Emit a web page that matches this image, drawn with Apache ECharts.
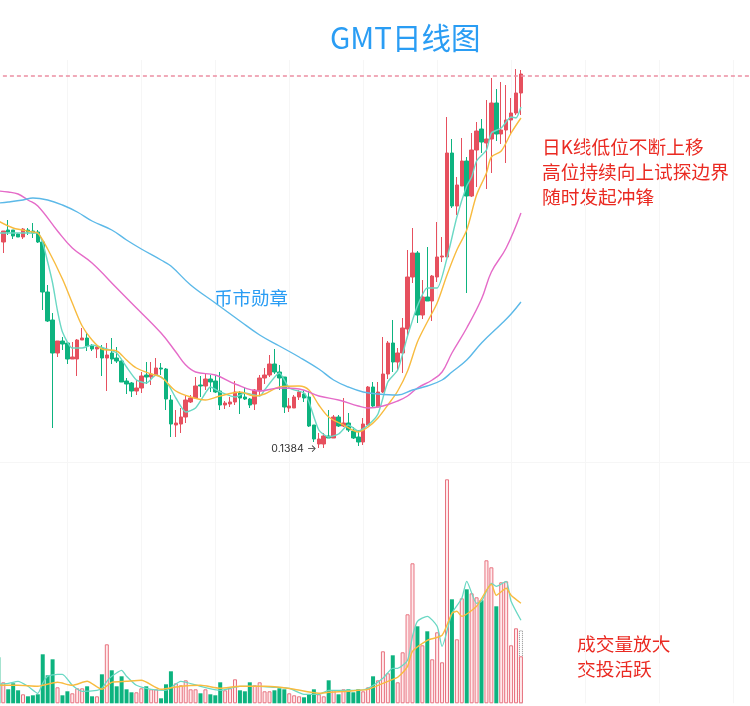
<!DOCTYPE html>
<html>
<head>
<meta charset="utf-8">
<style>
html, body { margin: 0; padding: 0; background: #fff; }
#main { width: 750px; height: 706px; }
</style>
<script src="https://cdn.jsdelivr.net/npm/echarts@6/dist/echarts.min.js"></script>
</head>
<body>
<div id="main"></div>
<script>
// 日K数据 [开盘, 收盘, 最低, 最高]
var candles = [
  [.344,.355,.333,.355],[.356,.354,.351,.366],[.356,.350,.347,.356],[.352,.349,.349,.353],[.349,.357,.347,.358],
  [.356,.354,.351,.358],[.355,.353,.348,.363],[.354,.344,.343,.356],[.344,.294,.276,.344],[.294,.265,.264,.301],
  [.266,.233,.158,.273],[.233,.245,.229,.245],[.245,.242,.236,.249],[.243,.227,.222,.243],[.227,.229,.227,.244],
  [.227,.246,.210,.247],[.246,.248,.246,.258],[.248,.240,.235,.253],[.240,.237,.235,.242],[.237,.239,.228,.240],
  [.238,.228,.210,.241],[.228,.231,.195,.243],[.233,.227,.222,.248],[.228,.225,.223,.239],[.225,.204,.204,.226],
  [.205,.202,.192,.208],[.203,.195,.189,.204],[.195,.198,.191,.206],[.198,.210,.193,.214],[.211,.209,.202,.224],
  [.209,.212,.201,.224],[.211,.218,.211,.228],[.218,.217,.211,.223],[.217,.187,.176,.218],[.186,.162,.149,.191],
  [.161,.163,.149,.176],[.162,.169,.153,.178],[.169,.186,.163,.191],[.184,.188,.183,.191],[.188,.200,.187,.209],
  [.201,.200,.189,.210],[.200,.207,.196,.213],[.207,.204,.194,.211],[.205,.194,.193,.211],[.195,.181,.176,.214],
  [.181,.183,.177,.185],[.182,.184,.179,.189],[.184,.194,.181,.205],[.193,.188,.172,.195],[.189,.187,.186,.199],
  [.187,.181,.178,.188],[.182,.196,.176,.197],[.195,.208,.191,.211],[.208,.211,.202,.218],[.211,.222,.209,.231],
  [.222,.214,.212,.237],[.214,.208,.196,.221],[.209,.179,.173,.209],[.178,.180,.174,.188],[.178,.189,.178,.191],
  [.189,.194,.186,.196],[.192,.188,.184,.196],[.189,.160,.159,.195],[.161,.147,.144,.161],[.142,.147,.138,.153],
  [.142,.150,.138,.153],[.150,.148,.148,.176],[.148,.169,.148,.171],[.169,.160,.159,.171],[.160,.163,.159,.188],
  [.163,.156,.154,.173],[.155,.148,.147,.159],[.149,.144,.140,.156],[.144,.162,.141,.168],[.161,.199,.160,.200],
  [.199,.180,.179,.204],[.179,.194,.179,.204],[.194,.212,.193,.249],[.212,.243,.207,.245],[.243,.224,.214,.266],
  [.224,.233,.216,.238],[.233,.258,.213,.268],[.257,.309,.249,.336],[.309,.333,.303,.358],[.333,.271,.263,.335],
  [.271,.289,.267,.306],[.289,.285,.285,.339],[.285,.310,.265,.311],[.309,.329,.304,.364],[.329,.330,.324,.349],
  [.329,.433,.329,.469],[.433,.380,.378,.447],[.380,.401,.371,.409],[.400,.425,.400,.448],[.425,.390,.293,.429],
  [.390,.436,.389,.453],[.436,.455,.399,.464],[.457,.444,.433,.467],[.443,.447,.397,.486],[.447,.483,.413,.508],
  [.483,.452,.445,.497],[.452,.456,.442,.504],[.456,.466,.423,.501],[.466,.473,.452,.488],[.473,.493,.471,.517],
  [.493,.512,.471,.516]
];
// 成交量，第一根只露出一点
var volumes = [
  46,21,14,20,13,9,7,8,9,49,28,44,16,8,12,10,15,15,17,7,7,29,59,33,17,27,14,11,11,15,17,14,14,5,19,32,
  20,18,23,14,14,10,14,9,8,21,13,15,24,13,12,21,18,21,12,12,13,15,14,10,8,7,6,9,14,9,7,23,13,9,14,14,11,14,12,
  16,27,23,52,30,48,21,51,89,140,77,58,72,44,71,41,224,104,64,105,114,110,106,103,143,136,97,121,122,58,75,47
];
var volumeEstimate = 73; // 最后一根的预估量，虚线框

// 均线读数 [类目序号, 价格]
var ma5 = [[0,.353],[5,.353],[8,.353],[9,.343],[10,.324],[11,.303],[12,.275],[13,.254],[15,.238],[17,.238],[19,.241],[22,.237],[24,.233],[26,.219],[28,.206],[30,.203],[32,.211],[34,.205],[36,.188],[38,.174],[40,.178],[42,.193],[43,.199],[45,.194],[48,.189],[50,.193],[53,.190],[54,.196],[57,.213],[59,.198],[62,.193],[63,.184],[65,.156],[67,.149],[69,.152],[71,.161],[73,.155],[75,.161],[77,.172],[79,.204],[81,.216],[83,.250],[85,.280],[87,.298],[89,.298],[91,.328],[93,.369],[95,.400],[96,.409],[97,.425],[99,.436],[100,.453],[102,.458],[104,.469],[105,.468],[106,.479]];
var ma10 = [[0,.365],[3,.358],[7,.354],[8,.353],[10,.337],[13,.307],[15,.283],[17,.260],[19,.246],[21,.237],[24,.235],[26,.226],[28,.218],[31,.212],[33,.209],[36,.195],[39,.189],[42,.186],[45,.190],[49,.194],[52,.190],[54,.192],[57,.199],[61,.200],[63,.196],[65,.181],[67,.169],[70,.161],[73,.154],[75,.159],[77,.168],[79,.181],[81,.195],[83,.215],[85,.244],[87,.264],[89,.283],[91,.311],[93,.336],[95,.356],[97,.391],[99,.413],[100,.429],[102,.435],[104,.453],[106,.468]];
var ma30 = [[0,.395],[2,.394],[4,.392],[6,.386],[8,.380],[12,.355],[15,.338],[19,.323],[24,.298],[27,.283],[33,.253],[36,.234],[38,.221],[40,.214],[44,.211],[48,.202],[53,.195],[57,.198],[61,.197],[65,.190],[69,.186],[73,.180],[75,.178],[78,.180],[81,.185],[83,.190],[85,.198],[88,.206],[90,.214],[92,.233],[95,.258],[98,.287],[100,.314],[103,.338],[106,.373]];
var ma60 = [[0,.383],[2,.384],[5,.386],[7,.388],[10,.386],[13,.381],[16,.374],[19,.365],[23,.356],[26,.346],[29,.337],[33,.326],[35,.320],[39,.301],[44,.283],[49,.265],[53,.251],[57,.240],[61,.229],[65,.217],[68,.206],[71,.199],[74,.194],[77,.192],[81,.191],[84,.196],[87,.200],[90,.206],[92,.214],[95,.226],[98,.243],[102,.262],[104,.272],[106,.284]];
var volMa5 = [[0,19],[2,20],[4,22],[6,17],[8,10],[9,20],[10,27],[12,29],[13,29],[15,18],[17,12],[20,13],[21,15],[22,22],[23,27],[25,33],[26,27],[28,18],[31,14],[34,13],[37,22],[41,17],[45,13],[49,17],[53,17],[56,16],[59,15],[62,9],[65,9],[67,13],[71,13],[73,13],[75,15],[78,25],[80,35],[81,35],[83,43],[84,67],[85,82],[87,87],[89,77],[90,57],[92,90],[94,105],[95,122],[97,100],[98,102],[100,120],[101,117],[103,122],[104,102],[106,83]];
var volMa10 = [[0,18],[4,18],[8,17],[9,18],[12,21],[15,18],[18,22],[21,14],[23,21],[26,22],[29,23],[33,14],[37,17],[41,18],[45,15],[49,17],[54,17],[57,16],[60,14],[65,10],[67,11],[71,12],[73,13],[75,14],[78,20],[80,24],[81,26],[83,37],[84,52],[87,63],[90,68],[92,90],[93,92],[94,87],[97,97],[100,119],[101,108],[103,115],[104,108],[106,100]];
var lowLabel = '0.1384 →';
var topPrice = 0.513;

// 右边留白，K线只占左侧
var categories = [];
for (var n = 0; n < 153; n++) categories.push(String(n));

var upColor = '#e6505e', downColor = '#0db37f';

var myChart = echarts.init(document.getElementById('main'));

var option = {
  animation: false,
  backgroundColor: '#fff',
  textStyle: { fontFamily: 'Noto Sans CJK SC' },
  title: {
    text: 'GMT日线图',
    left: 325, top: 18,
    textStyle: { color: '#2a9df4', fontSize: 29.5, fontWeight: 'normal', fontFamily: 'Noto Sans CJK SC' }
  },
  // 左边要伸出画布，第一根类目只露半截
  grid: [
    { left: -4.1, top: 60, width: 754.3, height: 402, outerBoundsMode: 'none' },
    { left: -4.1, top: 460.3, width: 754.3, height: 243, outerBoundsMode: 'none' }
  ],
  xAxis: [0, 1].map(function (g) {
    return {
      type: 'category', gridIndex: g, data: categories, boundaryGap: true,
      axisLine: { show: g === 0, lineStyle: { color: '#f6f6f6' } },
      axisTick: { show: false }, axisLabel: { show: false },
      splitLine: {
        show: true, alignWithLabel: true,
        interval: function (idx) { return idx % 15 === 14; },
        lineStyle: { color: '#f6f6f6', width: 1 }
      }
    };
  }),
  yAxis: [
    { type: 'value', gridIndex: 0, min: 0.124, max: 0.526, axisLine: { show: false }, axisTick: { show: false }, axisLabel: { show: false }, splitLine: { show: false } },
    { type: 'value', gridIndex: 1, min: 0, max: 243, axisLine: { show: false }, axisTick: { show: false }, axisLabel: { show: false }, splitLine: { show: false } }
  ],
  series: [
    {
      type: 'candlestick', xAxisIndex: 0, yAxisIndex: 0, barWidth: 4,
      data: [['-', '-', '-', '-']].concat(candles),
      itemStyle: { color: upColor, color0: downColor, borderColor: upColor, borderColor0: downColor, borderWidth: 1 },
      markLine: {
        silent: true, symbol: 'none', label: { show: false },
        lineStyle: { color: '#ec8ea2', type: [4, 3], width: 1.5 },
        data: [{ yAxis: topPrice }]
      },
      markPoint: {
        symbol: 'circle', symbolSize: 0,
        label: { show: true, position: 'left', formatter: lowLabel, color: '#333', fontSize: 10.5, fontFamily: 'Inter', distance: 2 },
        data: [{ coord: [65, 0.137] }]
      }
    },
    line(ma5, '#6ad8c4', 0, 0, 1.4, 0.2),
    line(ma10, '#f8bb3f', 0, 0, 1.4, 0.3),
    line(ma30, '#e56bc8', 0, 0, 1.4, 0.4),
    line(ma60, '#5cb9e8', 0, 0, 1.4, 0.4),
    {
      type: 'bar', xAxisIndex: 1, yAxisIndex: 1, barWidth: 4, barGap: '-100%', z: 1,
      data: categories.map(function (c, i) { return i === 106 ? volumeEstimate : null; }),
      itemStyle: { color: 'transparent', borderColor: '#888', borderType: 'dotted', borderWidth: 1 }
    },
    {
      type: 'bar', xAxisIndex: 1, yAxisIndex: 1, barWidth: 4, barGap: '-100%', z: 2,
      data: volumes.map(function (v, i) {
        var down = i === 0 || candles[i - 1][1] < candles[i - 1][0];
        return {
          value: v,
          itemStyle: down
            ? { color: downColor }
            : { color: '#ffeaec', borderColor: '#e8727f', borderWidth: 1 }
        };
      })
    },
    line(volMa5, '#6ad8c4', 1, 1, 1.3, 0.2),
    line(volMa10, '#f8bb3f', 1, 1, 1.4, 0.2)
  ],
  graphic: [
    redText('日K线低位不断上移', 542, 138),
    redText('高位持续向上试探边界', 542, 163),
    redText('随时发起冲锋', 542, 188),
    redText('成交量放大', 577, 635),
    redText('交投活跃', 577, 660),
    {
      type: 'text', left: 214, top: 289,
      style: { text: '币市勋章', fill: '#2a9df4', fontSize: 18.5, fontFamily: 'Noto Sans CJK SC' }
    }
  ]
};

function line(points, color, xi, yi, width, smooth) {
  return {
    type: 'line', xAxisIndex: xi, yAxisIndex: yi, data: points, z: 5, smooth: smooth,
    showSymbol: false, symbol: 'none', lineStyle: { color: color, width: width }
  };
}

function redText(s, x, y) {
  return {
    type: 'text', left: x, top: y,
    style: { text: s, fill: '#ea2a22', fontSize: 18.7, fontFamily: 'Noto Sans CJK SC' }
  };
}

myChart.setOption(option);
</script>
</body>
</html>
